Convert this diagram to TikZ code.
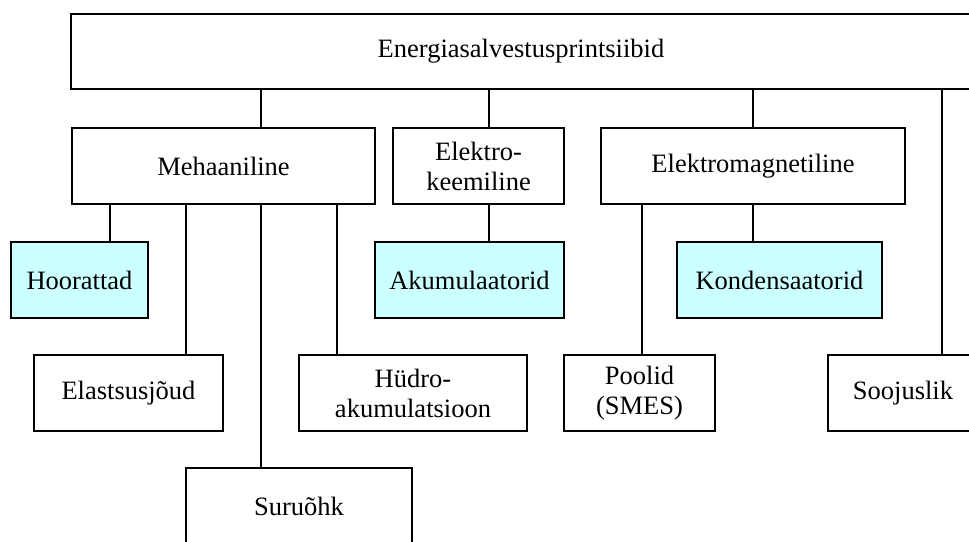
\documentclass[tikz,border=0pt]{standalone}
\usepackage{fontspec}
\setmainfont{Liberation Serif}
\definecolor{storecyan}{RGB}{204,255,255}
\begin{document}
\begin{tikzpicture}[x=1pt,y=-1pt,
  box/.style={draw=black, line width=1.1pt, fill=white, align=center, inner sep=0pt,
    font=\fontsize{26.5}{30}\selectfont},
  store/.style={box, fill=storecyan},
  link/.style={draw=black, line width=1.1pt}]
\useasboundingbox (0,0) rectangle (969,541);

% tap positions of the vertical connectors
\coordinate (tA) at (110,0);
\coordinate (tB) at (186,0);
\coordinate (tC) at (261,0);
\coordinate (tD) at (337,0);
\coordinate (tE) at (489,0);
\coordinate (tF) at (642,0);
\coordinate (tG) at (753,0);
\coordinate (tH) at (942,0);

% boxes
\node[box, minimum width=900, minimum height=75] (top) at (521,51.5) {Energiasalvestusprintsiibid};

\node[box, minimum width=303, minimum height=76] (mech) at (223.5,166) {Mehaaniline};
\node[box, minimum width=171, minimum height=76] (chem) at (478.5,166) {Elektro-\\keemiline};
\node[box, minimum width=304, minimum height=76] (emag) at (753,166) {Elektromagnetiline};

\node[store, minimum width=137, minimum height=76] (fly) at (79.5,280) {Hoorattad};
\node[store, minimum width=189, minimum height=76] (acc) at (469.5,280) {Akumulaatorid};
\node[store, minimum width=205, minimum height=76] (cap) at (779.5,280) {Kondensaatorid};

\node[box, minimum width=189, minimum height=76] (elas) at (128.5,393) {Elastsusjõud};
\node[box, minimum width=228, minimum height=76] (hydro) at (413,393) {Hüdro-\\akumulatsioon};
\node[box, minimum width=151, minimum height=76] (coil) at (639.5,393) {Poolid\\(SMES)};
\node[box, minimum width=150, minimum height=76] (heat) at (903,393) {Soojuslik};

\node[box, minimum width=226, minimum height=76] (air) at (299,506) {Suruõhk};

% connectors
\draw[link] (top.south -| tC) -- (mech.north -| tC);
\draw[link] (top.south -| tE) -- (chem.north -| tE);
\draw[link] (top.south -| tG) -- (emag.north -| tG);
\draw[link] (top.south -| tH) -- (heat.north -| tH);

\draw[link] (mech.south -| tA) -- (fly.north -| tA);
\draw[link] (mech.south -| tB) -- (elas.north -| tB);
\draw[link] (mech.south -| tC) -- (air.north -| tC);
\draw[link] (mech.south -| tD) -- (hydro.north -| tD);

\draw[link] (chem.south -| tE) -- (acc.north -| tE);

\draw[link] (emag.south -| tG) -- (cap.north -| tG);
\draw[link] (emag.south -| tF) -- (coil.north -| tF);
\end{tikzpicture}
\end{document}
